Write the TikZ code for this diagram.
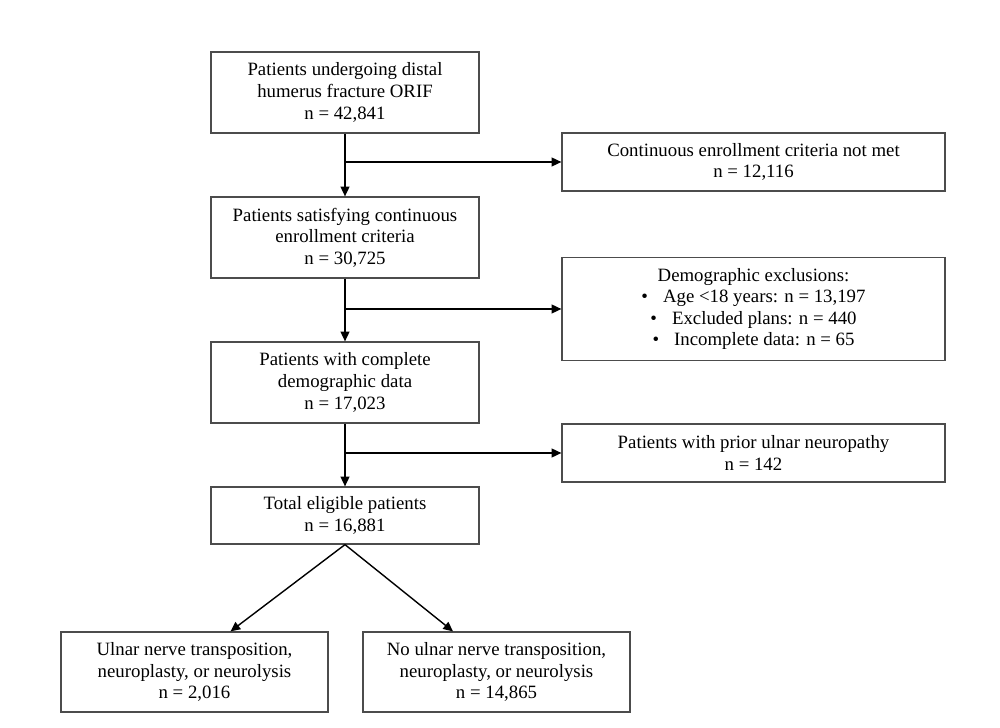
\documentclass[tikz,border=0pt]{standalone}
\usepackage{fontspec}
\setmainfont{Liberation Serif}
\usepackage{tikz}
\usetikzlibrary{arrows.meta, positioning}

\begin{document}
\begin{tikzpicture}[
    box/.style={rectangle, draw=black!70, line width=0.7pt, minimum width=5.36cm, minimum height=1.62cm, align=center, inner sep=2pt, font=\fontsize{10.7}{12.3}\selectfont},
    exbox/.style={box, minimum width=7.66cm, minimum height=1.16cm},
    arrow/.style={-{Triangle[length=5.5pt, width=5pt]}, line width=0.8pt}
]
\useasboundingbox (0,0) rectangle (20,-14.56);

% Main flow
\node[box] (all) at (6.9, -1.85) {Patients undergoing distal\\humerus fracture ORIF\\n = 42,841};
\node[box] (enrol) at (6.9, -4.75) {Patients satisfying continuous\\enrollment criteria\\n = 30,725};
\node[box] (demo) at (6.9, -7.65) {Patients with complete\\demographic data\\n = 17,023};
\node[box, minimum height=1.14cm] (elig) at (6.9, -10.31) {Total eligible patients\\n = 16,881};

% Exclusions
\node[exbox] (ex1) at (15.07, -3.24) {Continuous enrollment criteria not met\\n = 12,116};
\node[exbox, minimum height=2.06cm] (ex2) at (15.07, -6.18) {Demographic exclusions:\\\textbullet\hspace{0.8em}Age <18 years: n = 13,197\\\textbullet\hspace{0.8em}Excluded plans: n = 440\\\textbullet\hspace{0.8em}Incomplete data: n = 65};
\node[exbox] (ex3) at (15.07, -9.06) {Patients with prior ulnar neuropathy\\n = 142};

% Groups
\node[box, minimum width=5.34cm, minimum height=1.6cm] (ulnar) at (3.89, -13.44) {Ulnar nerve transposition,\\neuroplasty, or neurolysis\\n = 2,016};
\node[box, minimum width=5.34cm, minimum height=1.6cm] (noulnar) at (9.93, -13.44) {No ulnar nerve transposition,\\neuroplasty, or neurolysis\\n = 14,865};

\coordinate (ulnarin) at ([xshift=0.72cm]ulnar.north);
\coordinate (noulnarin) at ([xshift=-0.87cm]noulnar.north);

\draw[arrow] (all) -- (enrol);
\draw[arrow] (enrol) -- (demo);
\draw[arrow] (demo) -- (elig);
\draw[arrow] (all.south |- ex1.west) -- (ex1.west);
\draw[arrow] (enrol.south |- ex2.west) -- (ex2.west);
\draw[arrow] (demo.south |- ex3.west) -- (ex3.west);
\draw[arrow] (elig.south) -- (ulnarin);
\draw[arrow] (elig.south) -- (noulnarin);

\end{tikzpicture}
\end{document}
